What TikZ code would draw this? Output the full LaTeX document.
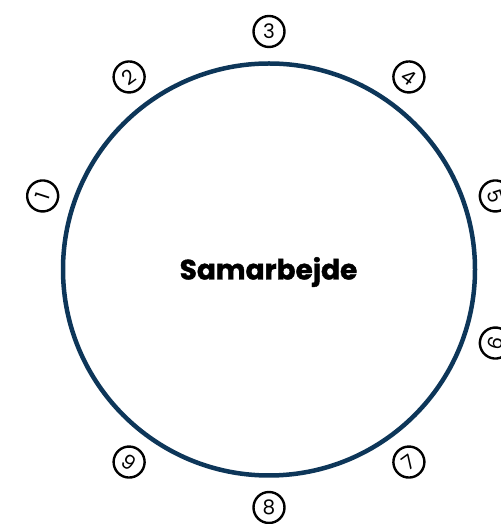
\documentclass[tikz,border=0pt]{standalone}
\usepackage{fontspec}
\setmainfont{Poppins}
\newfontfamily\heavyfont{Poppins}[BoldFeatures={FakeBold=1.3}]
\usetikzlibrary{calc}
\definecolor{navy}{HTML}{0D3659}
\begin{document}
\begin{tikzpicture}[x=1pt,y=1pt,
  bigring/.style={circle,draw=navy,line width=4.5pt,minimum size=412pt,inner sep=0pt},
  numring/.style={circle,draw=black,line width=2.4pt,minimum size=31pt,inner sep=0pt,font=\fontsize{20}{20}\selectfont},
  title/.style={font=\fontsize{28}{28}\selectfont\heavyfont\bfseries}]
\useasboundingbox (0,0) rectangle (500,524);
\coordinate (c) at (269,254.5);
\node[bigring] (ring) at (c) {};
\node[title] (t) at (268.5,252) {Samarbejde};
\foreach \n in {1,...,9}{
  \pgfmathsetmacro{\a}{198-36*\n}
  \pgfmathsetmacro{\r}{sin(\a)>=0 ? \a-90 : \a+90}
  \node[numring,rotate=\r] (n\n) at ($(c)+(\a:238)$) {\n};
}
\end{tikzpicture}
\end{document}
